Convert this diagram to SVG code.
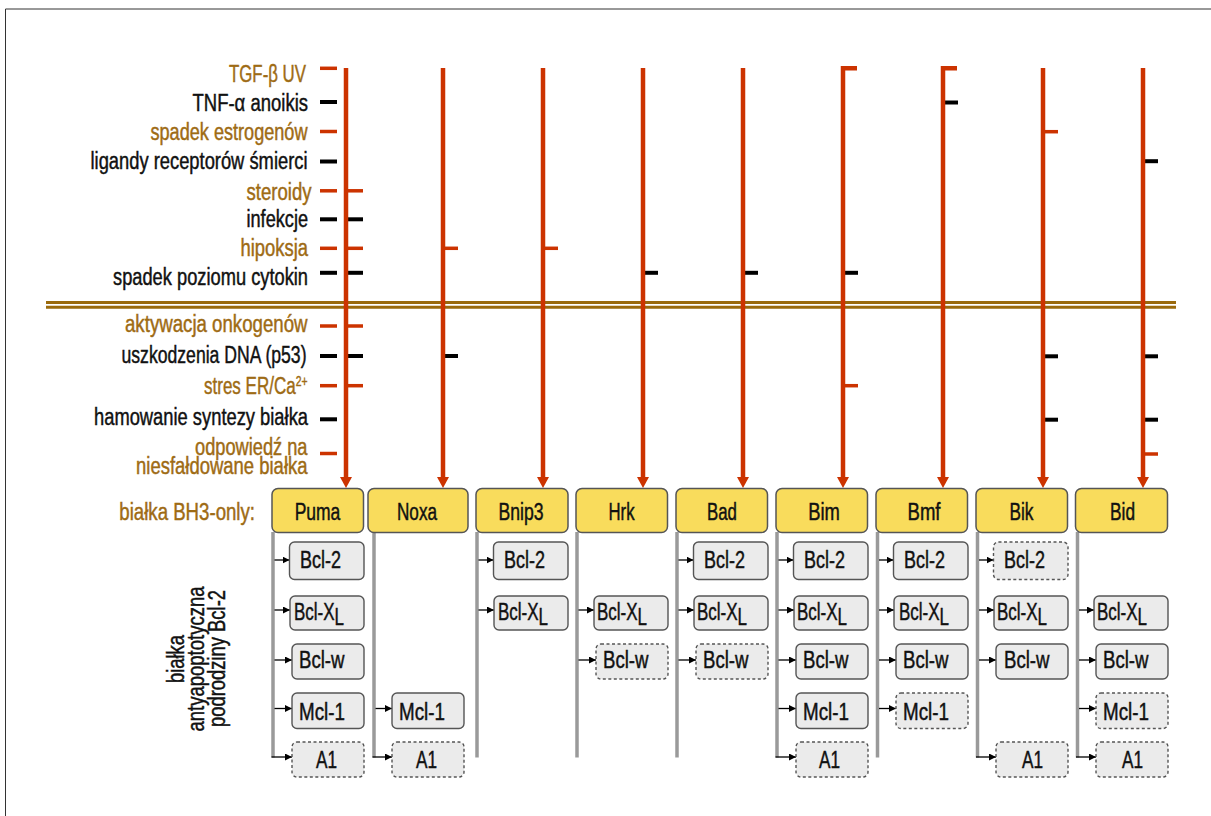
<svg xmlns="http://www.w3.org/2000/svg" width="1211" height="816" viewBox="0 0 1211 816">
<defs>
<style>
text{font-family:"Liberation Sans",Arial,sans-serif;font-size:23px;stroke-width:0.45px}
.br{fill:#9E6B14;stroke:#9E6B14}
.bk{fill:#111;stroke:#111}
.bh3{fill:#F9DC5C;stroke:#555;stroke-width:1.5}
.bcl{fill:#EBEBEB;stroke:#555;stroke-width:1.4}
.dash{stroke-dasharray:3 2.5}
.red{stroke:#CC3300;stroke-width:4.5;fill:none}
.tr{stroke:#CC3300;stroke-width:3.5}
.tk{stroke:#000;stroke-width:4}
.bar{stroke:#9A9A9A;stroke-width:3.5}
.arr{stroke:#000;stroke-width:1.3;marker-end:url(#ah)}
.ra{marker-end:url(#rh)}
.dl{stroke:#9A6A0C;stroke-width:3}
.mid{text-anchor:middle}
.end{text-anchor:end}
</style>
<marker id="ah" markerUnits="userSpaceOnUse" markerWidth="8" markerHeight="8" refX="7" refY="3.5" orient="auto"><path d="M0,0 L7,3.5 L0,7 z" fill="#000"/></marker>
<marker id="rh" markerUnits="userSpaceOnUse" markerWidth="12" markerHeight="12" refX="2" refY="6" orient="auto"><path d="M0,0 L11,6 L0,12 z" fill="#CC3300"/></marker>
</defs>
<rect width="1211" height="816" fill="#fff"/>
<path d="M5.5,816 V9 H1211" fill="none" stroke="#333" stroke-width="1"/>

<g id="divider">
<line class="dl" x1="46" y1="302.5" x2="1176" y2="302.5"/>
<line class="dl" x1="46" y1="307.3" x2="1176" y2="307.3"/>
</g>

<g id="stimuli">
<text class="br end" x="306" y="81.5" textLength="77" lengthAdjust="spacingAndGlyphs">TGF-β UV</text>
<text class="bk end" x="308" y="111" textLength="115.5" lengthAdjust="spacingAndGlyphs">TNF-α anoikis</text>
<text class="br end" x="307.5" y="140" textLength="157" lengthAdjust="spacingAndGlyphs">spadek estrogenów</text>
<text class="bk end" x="307.5" y="168.5" textLength="217" lengthAdjust="spacingAndGlyphs">ligandy receptorów śmierci</text>
<text class="br end" x="311.5" y="200" textLength="65" lengthAdjust="spacingAndGlyphs">steroidy</text>
<text class="bk end" x="308" y="226.7" textLength="61.5" lengthAdjust="spacingAndGlyphs">infekcje</text>
<text class="br end" x="308" y="256" textLength="67.5" lengthAdjust="spacingAndGlyphs">hipoksja</text>
<text class="bk end" x="308" y="285" textLength="195" lengthAdjust="spacingAndGlyphs">spadek poziomu cytokin</text>
<text class="br end" x="307.5" y="332.3" textLength="182.5" lengthAdjust="spacingAndGlyphs">aktywacja onkogenów</text>
<text class="bk end" x="306.5" y="363.3" textLength="185" lengthAdjust="spacingAndGlyphs">uszkodzenia DNA (p53)</text>
<text class="br end" x="307.5" y="394" textLength="103.5" lengthAdjust="spacingAndGlyphs">stres ER/Ca<tspan dy="-8" font-size="14">2+</tspan></text>
<text class="bk end" x="308" y="425" textLength="214" lengthAdjust="spacingAndGlyphs">hamowanie syntezy białka</text>
<text class="br end" x="307.5" y="455" textLength="112.5" lengthAdjust="spacingAndGlyphs">odpowiedź na</text>
<text class="br end" x="307.5" y="474.3" textLength="171.5" lengthAdjust="spacingAndGlyphs">niesfałdowane białka</text>
<text class="br" x="119.3" y="520" textLength="135.7" lengthAdjust="spacingAndGlyphs">białka BH3-only:</text>
</g>

<g id="family-label" class="bk">
<text class="bk mid" transform="translate(183.5,659) rotate(-90)" textLength="48" lengthAdjust="spacingAndGlyphs">białka</text>
<text class="bk mid" transform="translate(204,659) rotate(-90)" textLength="145" lengthAdjust="spacingAndGlyphs">antyapoptotyczna</text>
<text class="bk mid" transform="translate(224.5,658.5) rotate(-90)" textLength="137" lengthAdjust="spacingAndGlyphs">podrodziny Bcl-2</text>
</g>

<g id="connectors">
<g id="left-ticks">
<line class="tr" x1="320" y1="68.3" x2="337" y2="68.3"/>
<line class="tk" x1="320" y1="102" x2="337" y2="102"/>
<line class="tr" x1="320" y1="131.5" x2="337" y2="131.5"/>
<line class="tk" x1="320" y1="161.5" x2="337" y2="161.5"/>
<line class="tr" x1="320" y1="190.8" x2="337" y2="190.8"/>
<line class="tk" x1="320" y1="219.3" x2="337" y2="219.3"/>
<line class="tr" x1="320" y1="248.3" x2="337" y2="248.3"/>
<line class="tk" x1="320" y1="272.8" x2="337" y2="272.8"/>
<line class="tr" x1="320" y1="326" x2="337" y2="326"/>
<line class="tk" x1="320" y1="356" x2="337" y2="356"/>
<line class="tr" x1="320" y1="385.7" x2="337" y2="385.7"/>
<line class="tk" x1="320" y1="419.3" x2="337" y2="419.3"/>
<line class="tr" x1="320" y1="453.5" x2="337" y2="453.5"/>
</g>
<g id="column-ticks">
<line class="tr" x1="346" y1="190.8" x2="363" y2="190.8"/>
<line class="tk" x1="346" y1="219.3" x2="363" y2="219.3"/>
<line class="tr" x1="346" y1="248.3" x2="363" y2="248.3"/>
<line class="tk" x1="346" y1="272.8" x2="363" y2="272.8"/>
<line class="tr" x1="346" y1="326" x2="363" y2="326"/>
<line class="tk" x1="346" y1="356" x2="363" y2="356"/>
<line class="tr" x1="346" y1="385.7" x2="363" y2="385.7"/>
<line class="tr" x1="443" y1="248.3" x2="458" y2="248.3"/>
<line class="tk" x1="443" y1="356" x2="458" y2="356"/>
<line class="tr" x1="543" y1="248.3" x2="558" y2="248.3"/>
<line class="tk" x1="643" y1="272.8" x2="658" y2="272.8"/>
<line class="tk" x1="743" y1="272.8" x2="758" y2="272.8"/>
<line class="tk" x1="843" y1="272.8" x2="858" y2="272.8"/>
<line class="tr" x1="843" y1="385.7" x2="858" y2="385.7"/>
<line class="tk" x1="943" y1="102.5" x2="958" y2="102.5"/>
<line class="tr" x1="1043" y1="131.7" x2="1058" y2="131.7"/>
<line class="tk" x1="1043" y1="356.3" x2="1058" y2="356.3"/>
<line class="tk" x1="1043" y1="419.7" x2="1058" y2="419.7"/>
<line class="tk" x1="1143" y1="161.2" x2="1158" y2="161.2"/>
<line class="tk" x1="1143" y1="356.3" x2="1158" y2="356.3"/>
<line class="tk" x1="1143" y1="419.7" x2="1158" y2="419.7"/>
<line class="tr" x1="1143" y1="454" x2="1158" y2="454"/>
</g>
<g id="pathways">
<path class="red ra" d="M346,68 V479"/>
<path class="red ra" d="M443,68 V479"/>
<path class="red ra" d="M543,68 V479"/>
<path class="red ra" d="M643,68 V479"/>
<path class="red ra" d="M743,68 V479"/>
<path class="red ra" d="M857,68.3 H843 V479" stroke-linejoin="miter"/>
<path class="red ra" d="M957,68.3 H943 V479" stroke-linejoin="miter"/>
<path class="red ra" d="M1043,68 V479"/>
<path class="red ra" d="M1143,68 V479"/>
</g>
<g id="bars">
<line class="bar" x1="273" y1="532" x2="273" y2="757.5"/>
<line class="bar" x1="374" y1="532" x2="374" y2="757.5"/>
<line class="bar" x1="477" y1="532" x2="477" y2="757.5"/>
<line class="bar" x1="577" y1="532" x2="577" y2="757.5"/>
<line class="bar" x1="677" y1="532" x2="677" y2="757.5"/>
<line class="bar" x1="777" y1="532" x2="777" y2="757.5"/>
<line class="bar" x1="877.5" y1="532" x2="877.5" y2="757.5"/>
<line class="bar" x1="977.5" y1="532" x2="977.5" y2="757.5"/>
<line class="bar" x1="1077.5" y1="532" x2="1077.5" y2="757.5"/>
</g>
<g id="binding-arrows">
<line class="arr" x1="274.5" y1="560" x2="289.5" y2="560"/>
<line class="arr" x1="274.5" y1="610" x2="290" y2="610"/>
<line class="arr" x1="274.5" y1="660" x2="292" y2="660"/>
<line class="arr" x1="274.5" y1="708.5" x2="292" y2="708.5"/>
<line class="arr" x1="271.5" y1="757" x2="292" y2="757"/>
<line class="arr" x1="375.5" y1="708.5" x2="392" y2="708.5"/>
<line class="arr" x1="372.5" y1="757" x2="392" y2="757"/>
<line class="arr" x1="478.5" y1="560" x2="493.5" y2="560"/>
<line class="arr" x1="478.5" y1="610" x2="494" y2="610"/>
<line class="arr" x1="578.5" y1="610" x2="594" y2="610"/>
<line class="arr" x1="578.5" y1="660" x2="596" y2="660"/>
<line class="arr" x1="678.5" y1="560" x2="693.5" y2="560"/>
<line class="arr" x1="678.5" y1="610" x2="694" y2="610"/>
<line class="arr" x1="678.5" y1="660" x2="696" y2="660"/>
<line class="arr" x1="778.5" y1="560" x2="793.5" y2="560"/>
<line class="arr" x1="778.5" y1="610" x2="794" y2="610"/>
<line class="arr" x1="778.5" y1="660" x2="796" y2="660"/>
<line class="arr" x1="778.5" y1="708.5" x2="796" y2="708.5"/>
<line class="arr" x1="775.5" y1="757" x2="796" y2="757"/>
<line class="arr" x1="879" y1="560" x2="893.5" y2="560"/>
<line class="arr" x1="879" y1="610" x2="894" y2="610"/>
<line class="arr" x1="879" y1="660" x2="896" y2="660"/>
<line class="arr" x1="879" y1="708.5" x2="896" y2="708.5"/>
<line class="arr" x1="979" y1="560" x2="993.5" y2="560"/>
<line class="arr" x1="979" y1="610" x2="994" y2="610"/>
<line class="arr" x1="979" y1="660" x2="996" y2="660"/>
<line class="arr" x1="976" y1="757" x2="996" y2="757"/>
<line class="arr" x1="1079" y1="610" x2="1094" y2="610"/>
<line class="arr" x1="1079" y1="660" x2="1096" y2="660"/>
<line class="arr" x1="1079" y1="708.5" x2="1096" y2="708.5"/>
<line class="arr" x1="1076" y1="757" x2="1096" y2="757"/>
</g>
</g>

<g id="puma">
<rect class="bh3" x="272" y="488.5" width="91.5" height="44" rx="6"/>
<text class="bk mid" x="317.5" y="519.5" textLength="45.7" lengthAdjust="spacingAndGlyphs">Puma</text>
<g id="puma-bcl2"><rect class="bcl" x="289.5" y="542" width="74.5" height="37.5" rx="5"/><text class="bk" x="300" y="568.3" textLength="41" lengthAdjust="spacingAndGlyphs">Bcl-2</text></g>
<g id="puma-bclxl"><rect class="bcl" x="290" y="596" width="74" height="34" rx="5"/><text class="bk" x="294" y="620" textLength="50" lengthAdjust="spacingAndGlyphs">Bcl-X<tspan dy="5">L</tspan></text></g>
<g id="puma-bclw"><rect class="bcl" x="292" y="644" width="72" height="35" rx="5"/><text class="bk" x="299" y="668.3" textLength="45.5" lengthAdjust="spacingAndGlyphs">Bcl-w</text></g>
<g id="puma-mcl1"><rect class="bcl" x="292" y="693" width="72" height="35.5" rx="5"/><text class="bk" x="299" y="720" textLength="46" lengthAdjust="spacingAndGlyphs">Mcl-1</text></g>
<g id="puma-a1"><rect class="bcl dash" x="292" y="742" width="72" height="35" rx="5"/><text class="bk" x="316" y="768.3" textLength="21" lengthAdjust="spacingAndGlyphs">A1</text></g>
</g>

<g id="noxa">
<rect class="bh3" x="368" y="488.5" width="100" height="44" rx="6"/>
<text class="bk mid" x="417" y="519.5" textLength="40" lengthAdjust="spacingAndGlyphs">Noxa</text>
<g id="noxa-mcl1"><rect class="bcl" x="392" y="693" width="72" height="35.5" rx="5"/><text class="bk" x="399" y="720" textLength="46" lengthAdjust="spacingAndGlyphs">Mcl-1</text></g>
<g id="noxa-a1"><rect class="bcl dash" x="392" y="742" width="72" height="35" rx="5"/><text class="bk" x="416" y="768.3" textLength="21" lengthAdjust="spacingAndGlyphs">A1</text></g>
</g>

<g id="bnip3">
<rect class="bh3" x="476" y="488.5" width="92" height="44" rx="6"/>
<text class="bk mid" x="521" y="519.5" textLength="45" lengthAdjust="spacingAndGlyphs">Bnip3</text>
<g id="bnip3-bcl2"><rect class="bcl" x="493.5" y="542" width="74.5" height="37.5" rx="5"/><text class="bk" x="504" y="568.3" textLength="41" lengthAdjust="spacingAndGlyphs">Bcl-2</text></g>
<g id="bnip3-bclxl"><rect class="bcl" x="494" y="596" width="74" height="34" rx="5"/><text class="bk" x="498" y="620" textLength="50" lengthAdjust="spacingAndGlyphs">Bcl-X<tspan dy="5">L</tspan></text></g>
</g>

<g id="hrk">
<rect class="bh3" x="576" y="488.5" width="91.5" height="44" rx="6"/>
<text class="bk mid" x="621.5" y="519.5" textLength="26" lengthAdjust="spacingAndGlyphs">Hrk</text>
<g id="hrk-bclxl"><rect class="bcl" x="594" y="596" width="74" height="34" rx="5"/><text class="bk" x="597" y="620" textLength="50" lengthAdjust="spacingAndGlyphs">Bcl-X<tspan dy="5">L</tspan></text></g>
<g id="hrk-bclw"><rect class="bcl dash" x="596" y="644" width="72" height="35" rx="5"/><text class="bk" x="603" y="668.3" textLength="45.5" lengthAdjust="spacingAndGlyphs">Bcl-w</text></g>
</g>

<g id="bad">
<rect class="bh3" x="676" y="488.5" width="91.5" height="44" rx="6"/>
<text class="bk mid" x="722" y="519.5" textLength="30" lengthAdjust="spacingAndGlyphs">Bad</text>
<g id="bad-bcl2"><rect class="bcl" x="693.5" y="542" width="74.5" height="37.5" rx="5"/><text class="bk" x="704" y="568.3" textLength="41" lengthAdjust="spacingAndGlyphs">Bcl-2</text></g>
<g id="bad-bclxl"><rect class="bcl" x="694" y="596" width="74" height="34" rx="5"/><text class="bk" x="697" y="620" textLength="50" lengthAdjust="spacingAndGlyphs">Bcl-X<tspan dy="5">L</tspan></text></g>
<g id="bad-bclw"><rect class="bcl dash" x="696" y="644" width="72" height="35" rx="5"/><text class="bk" x="703" y="668.3" textLength="45.5" lengthAdjust="spacingAndGlyphs">Bcl-w</text></g>
</g>

<g id="bim">
<rect class="bh3" x="776" y="488.5" width="91.5" height="44" rx="6"/>
<text class="bk mid" x="824" y="519.5" textLength="31.7" lengthAdjust="spacingAndGlyphs">Bim</text>
<g id="bim-bcl2"><rect class="bcl" x="793.5" y="542" width="74.5" height="37.5" rx="5"/><text class="bk" x="804" y="568.3" textLength="41" lengthAdjust="spacingAndGlyphs">Bcl-2</text></g>
<g id="bim-bclxl"><rect class="bcl" x="794" y="596" width="74" height="34" rx="5"/><text class="bk" x="797" y="620" textLength="50" lengthAdjust="spacingAndGlyphs">Bcl-X<tspan dy="5">L</tspan></text></g>
<g id="bim-bclw"><rect class="bcl" x="796" y="644" width="72" height="35" rx="5"/><text class="bk" x="803" y="668.3" textLength="45.5" lengthAdjust="spacingAndGlyphs">Bcl-w</text></g>
<g id="bim-mcl1"><rect class="bcl" x="796" y="693" width="72" height="35.5" rx="5"/><text class="bk" x="803" y="720" textLength="46" lengthAdjust="spacingAndGlyphs">Mcl-1</text></g>
<g id="bim-a1"><rect class="bcl dash" x="796" y="742" width="72" height="35" rx="5"/><text class="bk" x="819" y="768.3" textLength="21" lengthAdjust="spacingAndGlyphs">A1</text></g>
</g>

<g id="bmf">
<rect class="bh3" x="876" y="488.5" width="91.5" height="44" rx="6"/>
<text class="bk mid" x="924" y="519.5" textLength="33" lengthAdjust="spacingAndGlyphs">Bmf</text>
<g id="bmf-bcl2"><rect class="bcl" x="893.5" y="542" width="74.5" height="37.5" rx="5"/><text class="bk" x="904" y="568.3" textLength="41" lengthAdjust="spacingAndGlyphs">Bcl-2</text></g>
<g id="bmf-bclxl"><rect class="bcl" x="894" y="596" width="74" height="34" rx="5"/><text class="bk" x="899" y="620" textLength="50" lengthAdjust="spacingAndGlyphs">Bcl-X<tspan dy="5">L</tspan></text></g>
<g id="bmf-bclw"><rect class="bcl" x="896" y="644" width="72" height="35" rx="5"/><text class="bk" x="903" y="668.3" textLength="45.5" lengthAdjust="spacingAndGlyphs">Bcl-w</text></g>
<g id="bmf-mcl1"><rect class="bcl dash" x="896" y="693" width="72" height="35.5" rx="5"/><text class="bk" x="903" y="720" textLength="46" lengthAdjust="spacingAndGlyphs">Mcl-1</text></g>
</g>

<g id="bik">
<rect class="bh3" x="976" y="488.5" width="91.5" height="44" rx="6"/>
<text class="bk mid" x="1021.5" y="519.5" textLength="24" lengthAdjust="spacingAndGlyphs">Bik</text>
<g id="bik-bcl2"><rect class="bcl dash" x="993.5" y="542" width="74.5" height="37.5" rx="5"/><text class="bk" x="1004" y="568.3" textLength="41" lengthAdjust="spacingAndGlyphs">Bcl-2</text></g>
<g id="bik-bclxl"><rect class="bcl" x="994" y="596" width="74" height="34" rx="5"/><text class="bk" x="997" y="620" textLength="50" lengthAdjust="spacingAndGlyphs">Bcl-X<tspan dy="5">L</tspan></text></g>
<g id="bik-bclw"><rect class="bcl" x="996" y="644" width="72" height="35" rx="5"/><text class="bk" x="1004" y="668.3" textLength="45.5" lengthAdjust="spacingAndGlyphs">Bcl-w</text></g>
<g id="bik-a1"><rect class="bcl dash" x="996" y="742" width="72" height="35" rx="5"/><text class="bk" x="1022" y="768.3" textLength="21" lengthAdjust="spacingAndGlyphs">A1</text></g>
</g>

<g id="bid">
<rect class="bh3" x="1075.5" y="488.5" width="92" height="44" rx="6"/>
<text class="bk mid" x="1122.5" y="519.5" textLength="25" lengthAdjust="spacingAndGlyphs">Bid</text>
<g id="bid-bclxl"><rect class="bcl" x="1094" y="596" width="74" height="34" rx="5"/><text class="bk" x="1097" y="620" textLength="50" lengthAdjust="spacingAndGlyphs">Bcl-X<tspan dy="5">L</tspan></text></g>
<g id="bid-bclw"><rect class="bcl" x="1096" y="644" width="72" height="35" rx="5"/><text class="bk" x="1103" y="668.3" textLength="45.5" lengthAdjust="spacingAndGlyphs">Bcl-w</text></g>
<g id="bid-mcl1"><rect class="bcl dash" x="1096" y="693" width="72" height="35.5" rx="5"/><text class="bk" x="1103" y="720" textLength="46" lengthAdjust="spacingAndGlyphs">Mcl-1</text></g>
<g id="bid-a1"><rect class="bcl dash" x="1096" y="742" width="72" height="35" rx="5"/><text class="bk" x="1122" y="768.3" textLength="21" lengthAdjust="spacingAndGlyphs">A1</text></g>
</g>
</svg>
